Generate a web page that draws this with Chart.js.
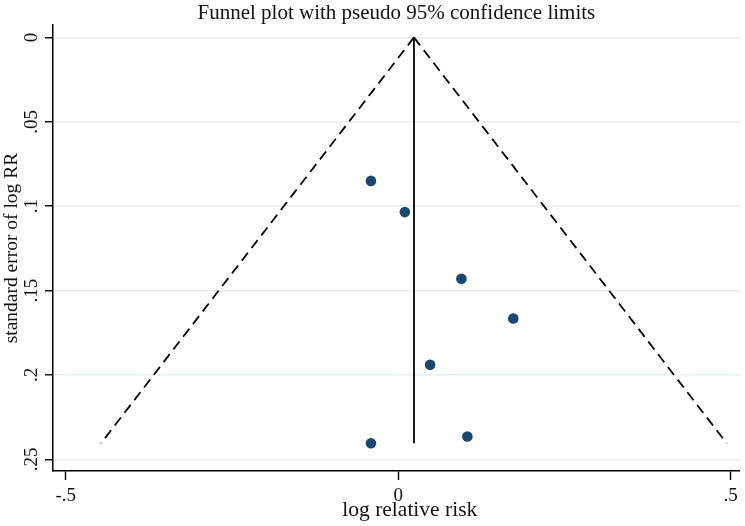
<!DOCTYPE html>
<html>
<head>
<meta charset="utf-8">
<script src="https://cdn.jsdelivr.net/npm/chart.js@4"></script>
<style>
  html, body { margin: 0; padding: 0; background: #fff; }
  #wrap { width: 745px; height: 526px; }
</style>
</head>
<body>
<div id="wrap"><canvas id="c" width="745" height="526"></canvas></div>
<script>
// Study estimates (log RR) and their standard errors
const studyLogRR = [-0.041, 0.010, 0.095, 0.173, 0.048, -0.041, 0.104];
const studySE    = [0.085, 0.1035, 0.143, 0.1665, 0.194, 0.2405, 0.2365];

// Pooled estimate line (x) and its SE extent (y)
const pooledX = [0.0237, 0.0237];
const pooledY = [0, 0.2405];

// Pseudo 95% confidence limits
const leftLimitX  = [0.0237, -0.447];
const leftLimitY  = [0, 0.2405];
const rightLimitX = [0.0237, 0.494];
const rightLimitY = [0, 0.2405];

// Axis ticks
const xTicks = [-0.5, 0, 0.5];
const xTickLabels = ['-.5', '0', '.5'];
const yTicks = [0, 0.05, 0.1, 0.15, 0.2, 0.25];
const yTickLabels = ['0', '.05', '.1', '.15', '.2', '.25'];

const FONT = '"Liberation Serif", "Times New Roman", serif';
const TXT = '#111';

const zip = (xs, ys) => xs.map((x, i) => ({ x: x, y: ys[i] }));

new Chart(document.getElementById('c'), {
  type: 'scatter',
  data: {
    datasets: [
      {
        data: zip(leftLimitX, leftLimitY),
        showLine: true, borderColor: '#000', borderWidth: 1.8,
        borderDash: [10, 6], pointRadius: 0, fill: false
      },
      {
        data: zip(rightLimitX, rightLimitY),
        showLine: true, borderColor: '#000', borderWidth: 1.8,
        borderDash: [10, 6], pointRadius: 0, fill: false
      },
      {
        data: zip(pooledX, pooledY),
        showLine: true, borderColor: '#000', borderWidth: 1.8,
        pointRadius: 0, fill: false
      },
      {
        data: zip(studyLogRR, studySE),
        showLine: false, pointRadius: 5.3, pointBorderWidth: 0,
        backgroundColor: '#1a476f', borderColor: '#1a476f'
      }
    ]
  },
  options: {
    responsive: false,
    animation: false,
    layout: { padding: { left: 0, right: 0, top: 0, bottom: 0 } },
    plugins: {
      legend: { display: false },
      tooltip: { enabled: false },
      title: {
        display: true,
        fullSize: false,
        text: 'Funnel plot with pseudo 95% confidence limits',
        color: TXT,
        font: { family: FONT, size: 21, weight: 'normal', lineHeight: 1.1 },
        padding: { top: 2, bottom: 0 }
      }
    },
    scales: {
      x: {
        type: 'linear',
        min: -0.5191,
        max: 0.5135,
        afterBuildTicks: (s) => { s.ticks = xTicks.map(v => ({ value: v })); },
        afterFit: (s) => { s.height = 55; },
        ticks: {
          color: TXT,
          font: { family: FONT, size: 19 },
          padding: 5,
          autoSkip: false,
          maxRotation: 0,
          callback: (v) => { const i = xTicks.indexOf(v); return i >= 0 ? xTickLabels[i] : ''; }
        },
        grid: {
          drawOnChartArea: false,
          drawTicks: true,
          tickLength: 9,
          tickColor: '#000',
          tickWidth: 1.4
        },
        border: { display: true, color: '#000', width: 1.5 },
        title: {
          display: true,
          text: '     log relative risk',
          color: TXT,
          font: { family: FONT, size: 21.5, lineHeight: 1.2 },
          padding: { top: 0, bottom: 3 }
        }
      },
      y: {
        type: 'linear',
        reverse: true,
        min: -0.0073,
        max: 0.2569,
        afterBuildTicks: (s) => { s.ticks = yTicks.map(v => ({ value: v })); },
        afterFit: (s) => { s.width = 53; },
        ticks: {
          color: TXT,
          font: { family: FONT, size: 19 },
          padding: 1,
          autoSkip: false,
          minRotation: 90,
          maxRotation: 90,
          crossAlign: 'center',
          callback: (v) => { const i = yTicks.indexOf(v); return i >= 0 ? yTickLabels[i] : ''; }
        },
        grid: {
          drawOnChartArea: true,
          color: '#e6eef0',
          lineWidth: 1.5,
          drawTicks: true,
          tickLength: 8,
          tickColor: '#000',
          tickWidth: 1.4
        },
        border: { display: true, color: '#000', width: 1.5 },
        title: {
          display: true,
          text: 'standard error of log RR',
          color: TXT,
          font: { family: FONT, size: 19.5, lineHeight: 1.2 },
          padding: { top: 0, bottom: 0 }
        }
      }
    }
  }
});
</script>
</body>
</html>
